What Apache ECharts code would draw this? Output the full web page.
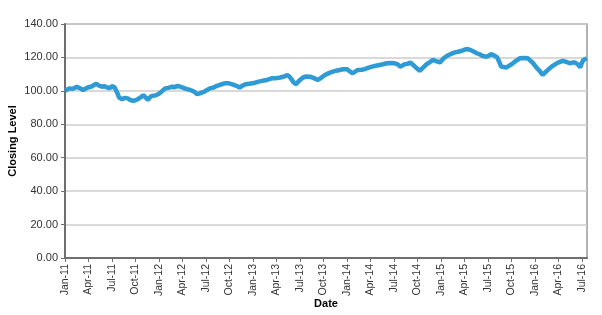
<!DOCTYPE html>
<html>
<head>
<meta charset="utf-8">
<script src="https://cdn.jsdelivr.net/npm/echarts@6/dist/echarts.min.js"></script>
<style>
html,body{margin:0;padding:0;background:#fff;}
#chart{width:602px;height:315px;}
</style>
</head>
<body>
<div id="chart"></div>
<script>
// Months elapsed since 1 Jan 2011 (fractional) for each observation
var monthsSinceJan2011 = [0,0.3,0.6,1.0,1.5,1.9,2.3,2.6,2.9,3.4,4.0,4.3,4.7,5.0,5.4,5.7,6.0,6.3,6.5,6.7,6.9,7.1,7.3,7.6,8.0,8.3,8.7,9.0,9.3,9.7,10.0,10.3,10.6,10.8,11.1,11.5,11.9,12.4,12.8,13.2,13.7,14.0,14.4,14.8,15.3,15.6,16.0,16.5,16.9,17.3,17.8,18.1,18.5,19.0,19.4,19.9,20.4,20.8,21.3,21.8,22.3,22.7,23.1,23.5,24.0,24.6,25.2,25.8,26.4,27.0,27.5,28.0,28.4,28.7,29.0,29.2,29.5,29.9,30.4,30.8,31.3,31.8,32.3,32.7,33.2,33.7,34.2,34.6,35.1,35.5,36.0,36.4,36.7,37.0,37.4,37.9,38.3,38.7,39.2,39.7,40.2,40.6,41.1,41.6,42.1,42.5,42.8,43.1,43.4,43.8,44.1,44.4,44.7,45.0,45.3,45.7,46.2,46.6,47.0,47.4,47.9,48.3,48.8,49.3,49.8,50.2,50.7,51.0,51.3,51.7,52.0,52.3,52.6,53.0,53.3,53.6,53.9,54.2,54.5,54.8,55.2,55.5,55.7,56.0,56.4,56.8,57.2,57.6,58.1,58.6,59.1,59.4,59.8,60.2,60.7,61.0,61.4,61.9,62.3,62.8,63.2,63.6,64.0,64.5,64.8,65.1,65.5,65.8,66.0,66.2,66.45,66.67];
// Closing level
var closingLevel = [100,100.8,101.5,101.2,102.5,101.6,100.5,101.3,102,102.6,104.3,103.2,102.5,102.8,102,101.6,102.8,102.3,101.5,98.5,96,95.4,95,95.8,95.5,94.6,94,94.4,95,96.2,97.5,96,94.5,96,97,97.2,98,99.8,101.5,101.8,102.5,102.2,103,102.4,101.5,101,100.5,99.5,98,98.6,99.5,100.4,101.5,102,103,103.8,104.5,104.6,104,103.2,102,103.2,104,104.2,104.5,105.4,106,106.5,107.5,107.6,108,108.6,109.5,108.3,106.5,105,104,106,108,108.6,108.5,107.6,106.5,107.8,109.5,110.6,111.5,112,112.5,112.9,113,111.6,110.5,111.3,112.5,112.6,113,113.8,114.5,115,115.5,115.9,116.5,116.6,116.5,115.8,114.5,115.2,116,116.2,117,115.8,114.5,113.2,112,113.8,116,117.2,118.5,117.8,117,119.2,121,122.1,123,123.4,124,124.6,125,124.6,124,123.3,122.5,121.8,121,120.6,120.5,121.3,122,121.2,120,117,114.5,114.3,114,115.2,116.5,118,119.5,119.7,119.5,118.2,116.5,114,111.5,109.5,111.3,113.5,115,116.5,117.3,118,117.4,116.5,116.9,117,115.8,114,116.5,118.5,119.2,119.5];
var monthNames = ['Jan','Feb','Mar','Apr','May','Jun','Jul','Aug','Sep','Oct','Nov','Dec'];
var yTicks = {min:0, max:140, interval:20};

var data = monthsSinceJan2011.map(function(m,i){return [m, closingLevel[i]];});
var chart = echarts.init(document.getElementById('chart'));
var font = 'Liberation Sans, Arial, sans-serif';
chart.setOption({
  animation:false,
  grid:{left:65,right:15,top:24,bottom:57,show:true,borderColor:'#9a9a9a',borderWidth:1.5,backgroundColor:'#fff',containLabel:false,outerBoundsMode:'none'},
  xAxis:{
    type:'value',min:0,max:66.67,interval:3,
    name:'Date',nameLocation:'middle',nameGap:40,nameMoveOverlap:false,
    nameTextStyle:{fontFamily:font,fontSize:11,fontWeight:'bold',color:'#000'},
    axisLine:{show:true,lineStyle:{color:'#6e6e6e',width:2}},
    axisTick:{show:true,length:4,lineStyle:{color:'#6e6e6e'}},
    splitLine:{show:false},
    axisLabel:{rotate:90,fontFamily:font,fontSize:10.5,color:'#333',margin:6,showMaxLabel:false,
      formatter:function(v){var mi=Math.round(v);var y=11+Math.floor(mi/12);return monthNames[mi%12]+'-'+y;}}
  },
  yAxis:{
    type:'value',min:yTicks.min,max:yTicks.max,interval:yTicks.interval,
    name:'Closing Level',nameLocation:'middle',nameGap:47,nameMoveOverlap:false,
    nameTextStyle:{fontFamily:font,fontSize:11,fontWeight:'bold',color:'#000'},
    axisLine:{show:true,lineStyle:{color:'#6e6e6e',width:2}},
    axisTick:{show:true,length:4,lineStyle:{color:'#6e6e6e'}},
    splitLine:{show:true,lineStyle:{color:'#cccccc',width:1.5}},
    axisLabel:{fontFamily:font,fontSize:11,color:'#333',margin:7,formatter:function(v){return v.toFixed(2);}}
  },
  series:[{
    type:'line',data:data,showSymbol:false,
    lineStyle:{color:'#2e9bd4',width:4.5},
    itemStyle:{color:'#2e9bd4'}
  }]
});
</script>
</body>
</html>
